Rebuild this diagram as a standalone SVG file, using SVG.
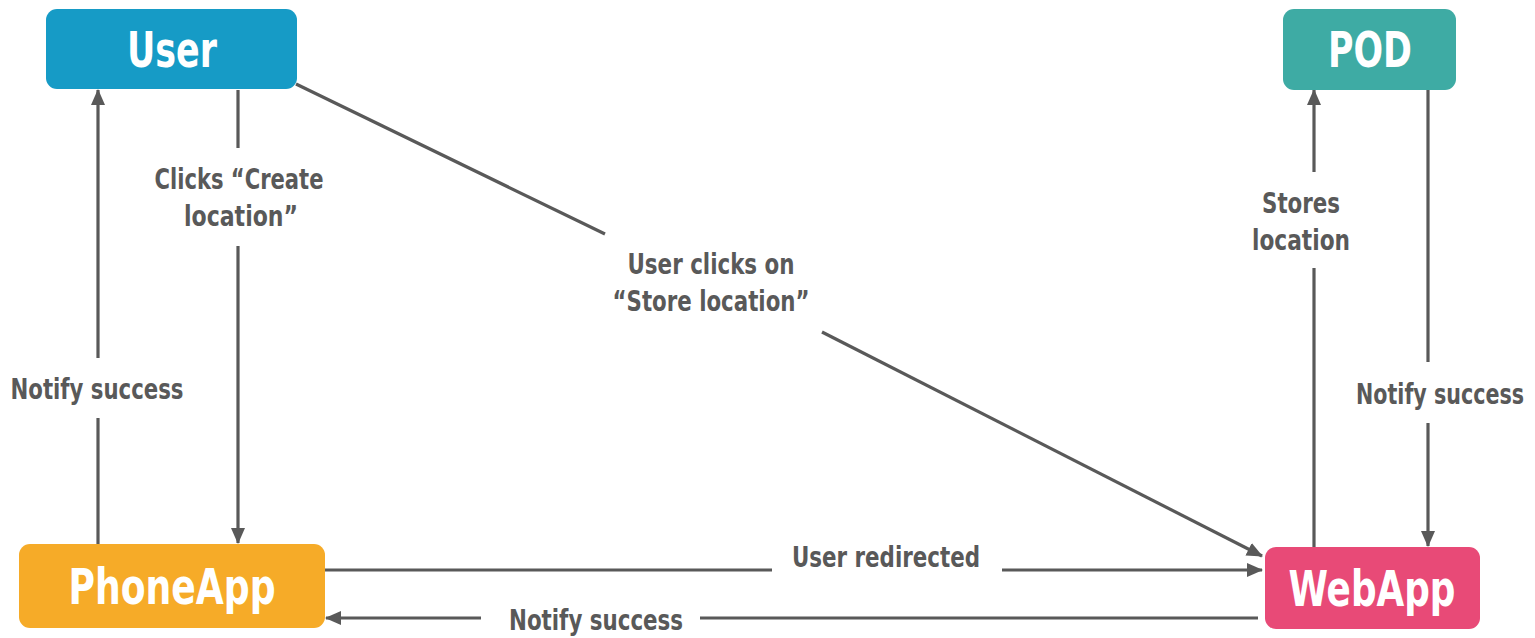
<svg xmlns="http://www.w3.org/2000/svg" width="1535" height="638" viewBox="0 0 1535 638">
<style>
.node-text{font-family:"DejaVu Sans Condensed","DejaVu Sans","Liberation Sans",sans-serif;font-weight:bold;font-size:50px;fill:#ffffff;text-anchor:middle}
.lbl{font-family:"DejaVu Sans Condensed","DejaVu Sans","Liberation Sans",sans-serif;font-weight:bold;font-size:28px;fill:#595959;text-anchor:middle}
.edge{stroke:#595959;stroke-width:3.2;fill:none}
</style>
<defs>
<marker id="arrow" viewBox="0 0 16 16" refX="15" refY="8" markerWidth="16" markerHeight="16" markerUnits="userSpaceOnUse" orient="auto">
<path d="M0,1 L16,8 L0,15 Z" fill="#595959"/>
</marker>
</defs>
<rect width="1535" height="638" fill="#ffffff"/>
<g id="connectors">
<!-- PhoneApp -> User -->
<path class="edge" d="M98,544 V418"/>
<path class="edge" d="M98,358 V90" marker-end="url(#arrow)"/>
<text class="lbl" x="97" y="399" textLength="173" lengthAdjust="spacingAndGlyphs">Notify success</text>
<!-- User -> PhoneApp -->
<path class="edge" d="M238,90 V148"/>
<path class="edge" d="M238,246 V543" marker-end="url(#arrow)"/>
<text class="lbl" x="239" y="189" textLength="169" lengthAdjust="spacingAndGlyphs">Clicks “Create</text>
<text class="lbl" x="241" y="226" textLength="114" lengthAdjust="spacingAndGlyphs">location”</text>
<!-- User -> WebApp -->
<path class="edge" d="M296,84 L605,234"/>
<path class="edge" d="M822,332 L1262,556" marker-end="url(#arrow)"/>
<text class="lbl" x="711" y="274" textLength="167" lengthAdjust="spacingAndGlyphs">User clicks on</text>
<text class="lbl" x="711" y="311" textLength="197" lengthAdjust="spacingAndGlyphs">“Store location”</text>
<!-- PhoneApp -> WebApp -->
<path class="edge" d="M325,570 H772"/>
<path class="edge" d="M1002,570 H1262" marker-end="url(#arrow)"/>
<text class="lbl" x="886" y="567" textLength="188" lengthAdjust="spacingAndGlyphs">User redirected</text>
<!-- WebApp -> PhoneApp -->
<path class="edge" d="M1258,618 H700"/>
<path class="edge" d="M481,618 H326" marker-end="url(#arrow)"/>
<text class="lbl" x="596" y="630" textLength="174" lengthAdjust="spacingAndGlyphs">Notify success</text>
<!-- WebApp -> POD -->
<path class="edge" d="M1314,547 V268"/>
<path class="edge" d="M1314,172 V90" marker-end="url(#arrow)"/>
<text class="lbl" x="1301" y="213" textLength="78" lengthAdjust="spacingAndGlyphs">Stores</text>
<text class="lbl" x="1301" y="250" textLength="98" lengthAdjust="spacingAndGlyphs">location</text>
<!-- POD -> WebApp -->
<path class="edge" d="M1428,90 V362"/>
<path class="edge" d="M1428,423 V546" marker-end="url(#arrow)"/>
<text class="lbl" x="1440" y="404" textLength="168" lengthAdjust="spacingAndGlyphs">Notify success</text>
</g>
<g id="node-user">
<rect x="46" y="9" width="251" height="80" rx="11" fill="#169bc6"/>
<text class="node-text" x="172" y="67" textLength="90" lengthAdjust="spacingAndGlyphs">User</text>
</g>
<g id="node-pod">
<rect x="1283" y="9" width="173" height="81" rx="11" fill="#3eaba4"/>
<text class="node-text" x="1370" y="67" textLength="84" lengthAdjust="spacingAndGlyphs">POD</text>
</g>
<g id="node-phoneapp">
<rect x="19" y="544" width="306" height="84" rx="11" fill="#f6ab28"/>
<text class="node-text" x="172" y="604" textLength="207" lengthAdjust="spacingAndGlyphs">PhoneApp</text>
</g>
<g id="node-webapp">
<rect x="1265" y="547" width="215" height="82" rx="11" fill="#e84a77"/>
<text class="node-text" x="1372" y="606" textLength="167" lengthAdjust="spacingAndGlyphs">WebApp</text>
</g>
</svg>
